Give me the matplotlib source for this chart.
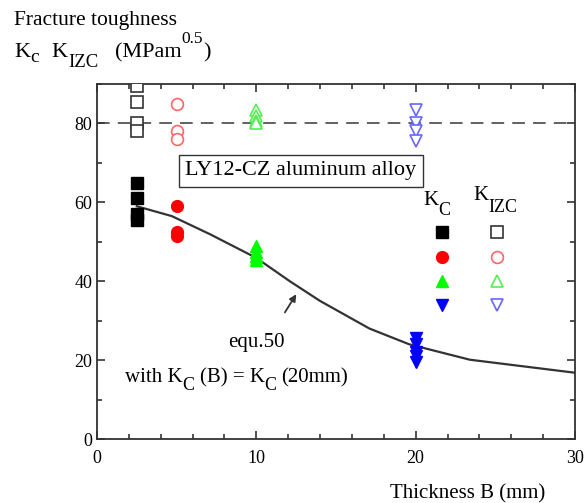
import matplotlib
matplotlib.use("Agg")
import matplotlib.pyplot as plt
from matplotlib.ticker import MultipleLocator
from matplotlib.transforms import offset_copy

plt.rcParams['font.family'] = ['Liberation Serif', 'DejaVu Serif']

# ---- data ----
kc_sq_x = [2.5, 2.5, 2.5, 2.5]
kc_sq_y = [65, 61, 57, 55.5]
kizc_sq_x = [2.5, 2.5, 2.5, 2.5]
kizc_sq_y = [89.5, 85.5, 80, 78]

kc_ci_x = [5, 5, 5]
kc_ci_y = [59, 52.5, 51.5]
kizc_ci_x = [5, 5, 5]
kizc_ci_y = [85, 78, 76]

kc_tr_x = [10, 10, 10, 10]
kc_tr_y = [49, 47.5, 46.5, 45.5]
kizc_tr_x = [10, 10, 10, 10]
kizc_tr_y = [83.5, 82, 80.5, 80]

kc_itr_x = [20, 20, 20, 20, 20]
kc_itr_y = [25.5, 24, 22, 21, 19.5]
kizc_itr_x = [20, 20, 20, 20]
kizc_itr_y = [83.5, 80, 78, 75.5]

curve_x = [2.5, 4.7, 7.1, 10, 12.1, 14, 17.1, 19.6, 23.4, 30]
curve_y = [59, 56.5, 51.9, 45.9, 40, 35, 28, 24, 20.1, 16.8]

ref_level = 80

W, H = 585, 503
fig = plt.figure(figsize=(W / 100, H / 100), dpi=100)
ax = fig.add_axes([97 / W, 1 - 439 / H, 478 / W, 355 / H])
renderer = fig.canvas.get_renderer()


def rich(x, y, pieces, transform):
    """pieces: (text, fontsize, dy_px, gap_after_px)"""
    dx = 0.0
    for s, size, dy, gap in pieces:
        t = fig.text(x, y, s, fontsize=size, ha='left', va='baseline',
                     transform=offset_copy(transform, fig=fig, x=dx, y=dy, units='dots'))
        dx += t.get_window_extent(renderer).width + gap


ax.axhline(ref_level, color='#555555', lw=1.3, ls=(0, (7, 4.5)), zorder=1)
ax.plot(curve_x, curve_y, color='#333333', lw=1.6, zorder=2)

ms = 8.5
h1, = ax.plot(kc_sq_x, kc_sq_y, 's', color='black', ms=ms, ls='none', zorder=3)
h2, = ax.plot(kc_ci_x, kc_ci_y, 'o', color='red', ms=ms, ls='none', zorder=3)
h3, = ax.plot(kc_tr_x, kc_tr_y, '^', color='#00ff00', ms=ms, ls='none', zorder=3)
h4, = ax.plot(kc_itr_x, kc_itr_y, 'v', color='blue', ms=ms, ls='none', zorder=3)
o1, = ax.plot(kizc_sq_x, kizc_sq_y, 's', mfc='white', mec='#333333', mew=1.2, ms=ms, ls='none', zorder=3)
o2, = ax.plot(kizc_ci_x, kizc_ci_y, 'o', mfc='white', mec='#ff6666', mew=1.2, ms=ms, ls='none', zorder=3)
o3, = ax.plot(kizc_tr_x, kizc_tr_y, '^', mfc='white', mec='#55ee55', mew=1.2, ms=ms, ls='none', zorder=3)
o4, = ax.plot(kizc_itr_x, kizc_itr_y, 'v', mfc='white', mec='#6666ff', mew=1.2, ms=ms, ls='none', zorder=3)

ax.set_xlim(0, 30)
ax.set_ylim(0, 90)
ax.xaxis.set_major_locator(MultipleLocator(10))
ax.xaxis.set_minor_locator(MultipleLocator(2))
ax.set_yticks([0, 20, 40, 60, 80])
ax.yaxis.set_minor_locator(MultipleLocator(10))
ax.tick_params(which='both', direction='in', top=True, right=True, labelsize=13,
               colors='#333333', labelcolor='black')
ax.tick_params(which='major', length=6, width=1.2)
ax.tick_params(which='minor', length=3.5, width=1.2)
ax.tick_params(axis='x', pad=8)
for s in ax.spines.values():
    s.set_linewidth(1.3)
    s.set_color('#333333')

# legend-like key
leg = ax.legend([h1, h2, h3, h4, o1, o2, o3, o4], [''] * 8, ncol=2, frameon=False,
                loc='upper left', bbox_to_anchor=(0.695, 0.612), handlelength=1.0,
                handletextpad=0.0, columnspacing=3.0, labelspacing=0.8, borderaxespad=0)

# key headers (figure pixel positions)
px = fig.transFigure
rich(423 / W, 1 - 205 / H, [('K', 15, 0, 0), ('C', 13, -10, 0)], px)
rich(473 / W, 1 - 200 / H, [('K', 15, 0, 0), ('IZC', 13, -12, 0)], px)

ax.text(12.8, 68, 'LY12-CZ aluminum alloy', fontsize=16, ha='center', va='center',
        bbox=dict(boxstyle='square,pad=0.3', fc='white', ec='#333333', lw=1.0))

ax.annotate('', xy=(12.6, 37.3), xytext=(11.7, 31.5),
            arrowprops=dict(arrowstyle='-|>', color='#333333', lw=1.3, mutation_scale=10))

rich(228 / W, 1 - 347 / H, [('equ.50', 15, 0, 0)], px)
rich(125 / W, 1 - 382 / H, [('with K', 15, 0, 0), ('C', 13, -8, 5),
                            ('(B) = K', 15, 0, 0), ('C', 13, -8, 5), ('(20mm)', 15, 0, 0)], px)

fig.text(14 / W, 1 - 25 / H, 'Fracture toughness', fontsize=15.5, ha='left', va='baseline')
rich(14 / W, 1 - 57 / H, [('K', 16, 0, 0), ('c', 14, -5, 13), ('K', 16, 0, 0),
                         ('IZC', 13.5, -10, 17), ('(MPam', 16, 0, 0), ('0.5', 12.5, 14, 0),
                         (')', 16, 0, 0)], px)
fig.text(545 / W, 1 - 498 / H, 'Thickness B (mm)', fontsize=15, ha='right', va='baseline')

fig.savefig('out.png', dpi=100)
